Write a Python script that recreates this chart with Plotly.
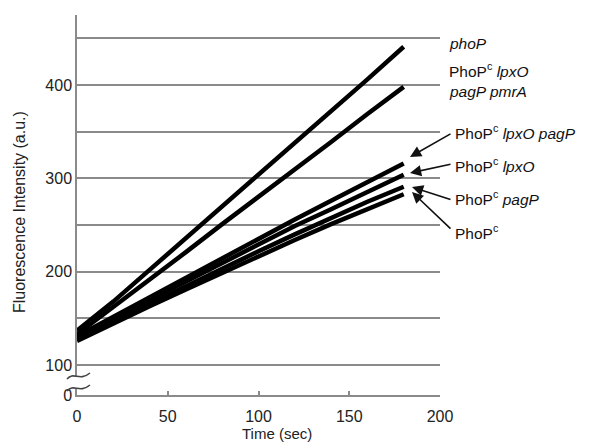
import plotly.graph_objects as go

# ---- data ----
time_s = [0, 20, 40, 60, 80, 100, 120, 140, 160, 180]
phoP = [137, 168, 202, 236, 270, 303, 337, 371, 406, 441]
phoPc_lpxO_pagP_pmrA = [133, 162, 192, 221, 251, 280, 310, 339, 369, 398]
phoPc_lpxO_pagP = [131, 152, 173, 194, 215, 235, 256, 276, 296, 316]
phoPc_lpxO = [130, 150, 170, 190, 210, 229, 249, 267, 286, 304]
phoPc_pagP = [128, 147, 166, 185, 204, 222, 240, 258, 275, 291]
phoPc = [126, 145, 163, 181, 199, 217, 234, 251, 267, 283]

series = [phoP, phoPc_lpxO_pagP_pmrA, phoPc_lpxO_pagP, phoPc_lpxO, phoPc_pagP, phoPc]

x_ticks = [0, 50, 100, 150, 200]
# y axis is broken: value 0 is drawn at position 68 (just below 100)
y_tickvals = [68, 100, 150, 200, 250, 300, 350, 400, 450]
y_ticktext = ["0", "100", "", "200", "", "300", "", "400", ""]

labels = ["<i>phoP</i>", "PhoP<sup>c</sup> <i>lpxO</i>", "<i>pagP pmrA</i>",
          "PhoP<sup>c</sup> <i>lpxO pagP</i>", "PhoP<sup>c</sup> <i>lpxO</i>",
          "PhoP<sup>c</sup> <i>pagP</i>", "PhoP<sup>c</sup>"]

# ---- layout geometry (page body has an 8px margin) ----
OFF = 8
W, H = 589 - OFF, 442 - OFF
L, R, T, B = 77 - OFF, 149, 15 - OFF, 47
XR = [0, 200]
YR = [68, 475]
PW, PH = W - L - R, H - T - B


def px2x(px):
    return XR[0] + (px - OFF - L) / PW * (XR[1] - XR[0])


def py2y(py):
    return YR[0] + (H - B - (py - OFF)) / PH * (YR[1] - YR[0])


def pxp(px):
    return (px - OFF - L) / PW


def pyp(py):
    return (H - B - (py - OFF)) / PH


FONT = "Liberation Sans, Arial, sans-serif"
GRID = "#8a8a8a"

fig = go.Figure()
for s in series:
    fig.add_trace(go.Scatter(x=time_s, y=s, mode="lines",
                             line=dict(color="black", width=4.5),
                             showlegend=False, hoverinfo="skip"))

fig.update_layout(
    width=W, height=H,
    margin=dict(l=L, r=R, t=T, b=B),
    paper_bgcolor="white", plot_bgcolor="white",
    font=dict(family=FONT, size=16, color="#222"),
    xaxis=dict(range=XR, tickvals=x_ticks, showgrid=False, zeroline=False,
               showline=True, linecolor=GRID, linewidth=1.5,
               ticks="inside", ticklen=4, tickcolor=GRID, tickwidth=1.5,
               ticklabelstandoff=6),
    yaxis=dict(range=YR, tickvals=y_tickvals, ticktext=y_ticktext,
               showgrid=True, gridcolor=GRID, gridwidth=1.5, zeroline=False,
               showline=True, linecolor=GRID, linewidth=1.5, ticks=""),
)

ann = []
# axis titles
ann.append(dict(text="Fluorescence Intensity (a.u.)", xref="paper", yref="paper",
                x=pxp(20), y=pyp(212), textangle=-90, showarrow=False,
                xanchor="center", yanchor="middle", font=dict(size=16)))
ann.append(dict(text="Time (sec)", xref="paper", yref="paper",
                x=pxp(277), y=pyp(433), showarrow=False,
                xanchor="center", yanchor="middle", font=dict(size=15)))

label_px = [(447, 43), (447, 70), (447, 92), (453, 132), (453, 165), (453, 198), (453, 232)]
for txt, (lx, ly) in zip(labels, label_px):
    ann.append(dict(text=txt, xref="paper", yref="paper", x=pxp(lx), y=pyp(ly),
                    xanchor="left", yanchor="middle", showarrow=False,
                    font=dict(size=15.5, color="#111")))

arrows = [((452, 133), (410, 157)), ((452, 164), (410, 173)),
          ((452, 200), (412, 187)), ((452, 230), (412, 192))]
for (tx, ty), (hx, hy) in arrows:
    ann.append(dict(text="", x=px2x(hx), y=py2y(hy), ax=px2x(tx), ay=py2y(ty),
                    xref="x", yref="y", axref="x", ayref="y", showarrow=True,
                    arrowhead=2, arrowsize=1.4, arrowwidth=1.6, arrowcolor="#111"))
fig.update_layout(annotations=ann)

# axis break marks
shapes = [dict(type="rect", xref="paper", yref="paper", x0=pxp(73), x1=pxp(81),
               y0=pyp(389), y1=pyp(377), fillcolor="white", line=dict(width=0),
               layer="above")]


def squiggle(x0, y0):
    pts = [(x0, y0), (x0 + 7, y0 - 8), (x0 + 12, y0 + 3), (x0 + 23, y0 - 6)]
    p = [(pxp(a), pyp(b)) for a, b in pts]
    return "M {},{} C {},{} {},{} {},{}".format(p[0][0], p[0][1], p[1][0], p[1][1],
                                              p[2][0], p[2][1], p[3][0], p[3][1])


for y0 in (379, 391):
    shapes.append(dict(type="path", xref="paper", yref="paper", path=squiggle(67, y0),
                       line=dict(color="#444", width=1.6), layer="above"))
fig.update_layout(shapes=shapes)

fig.write_html("out.html")
